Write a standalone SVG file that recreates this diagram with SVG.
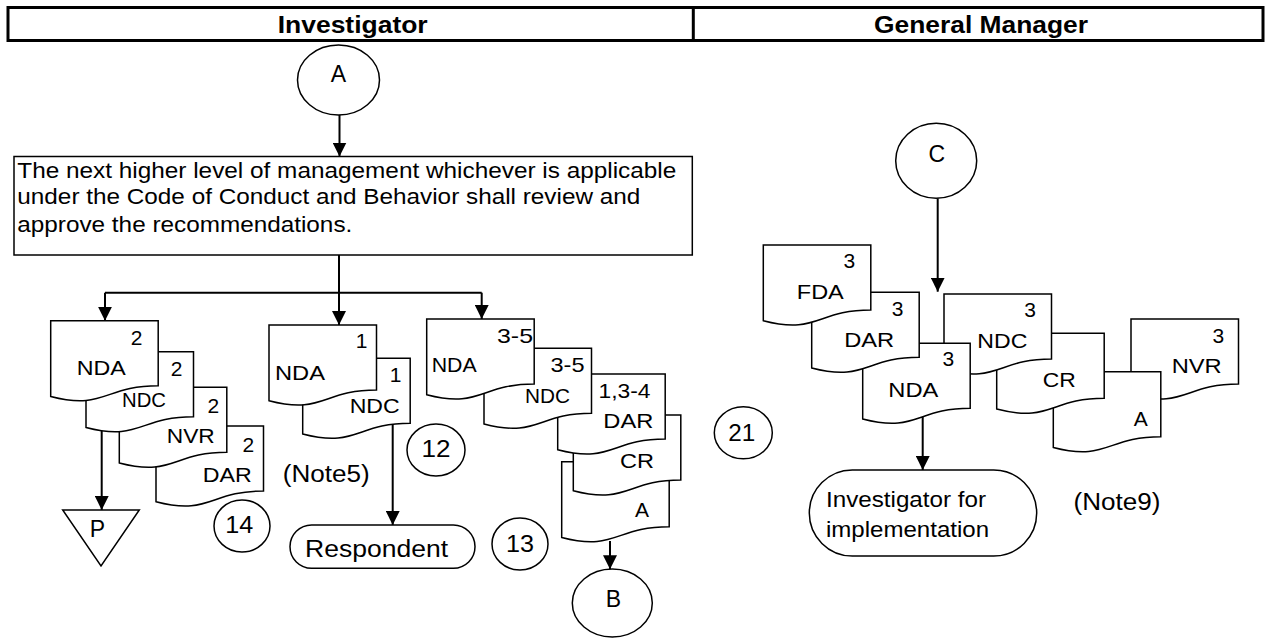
<svg xmlns="http://www.w3.org/2000/svg" xmlns:xlink="http://www.w3.org/1999/xlink" width="1267" height="639" viewBox="0 0 1267 639">
<style>
text{font-family:"Liberation Sans",Arial,sans-serif;fill:#000}
.hdr{font-size:23px;font-weight:bold;text-anchor:middle}
.bx{font-size:22px}
.lbl{font-size:21px;text-anchor:middle}
.big{font-size:23px;text-anchor:middle}
.shape{fill:#fff;stroke:#000;stroke-width:1.5}
.conn{stroke:#000;stroke-width:2;fill:none}
</style>
<defs>
<path id="doc" d="M0,0 H107.5 V65 C53.75,65 53.75,89.7 0,75.7 Z" fill="#fff" stroke="#000" stroke-width="1.5"/>
<marker id="ah" markerUnits="userSpaceOnUse" markerWidth="14" markerHeight="14" viewBox="0 0 14 14" refX="14" refY="7" orient="auto">
<path d="M0,0 L14,7 L0,14 Z" fill="#000"/>
</marker>
</defs>
<rect width="1267" height="639" fill="#fff"/>

<g id="header">
<rect x="8" y="7.5" width="1255" height="33" fill="none" stroke="#000" stroke-width="3"/>
<line x1="693.3" y1="7.5" x2="693.3" y2="40.5" stroke="#000" stroke-width="3"/>
<text class="hdr" x="352.7" y="33" textLength="150" lengthAdjust="spacingAndGlyphs">Investigator</text>
<text class="hdr" x="981" y="33" textLength="214" lengthAdjust="spacingAndGlyphs">General Manager</text>
</g>

<g id="conn">
<path class="conn" d="M339.5,115 V156.5" marker-end="url(#ah)"/>
<path class="conn" d="M339,255 V292.7"/>
<path class="conn" d="M105,292.7 H481.7"/>
<path class="conn" d="M105,292.7 V320.7" marker-end="url(#ah)"/>
<path class="conn" d="M339,292.7 V325" marker-end="url(#ah)"/>
<path class="conn" d="M481.7,292.7 V319" marker-end="url(#ah)"/>
<path class="conn" d="M101.7,431 V510" marker-end="url(#ah)"/>
<path class="conn" d="M392.7,424 V525" marker-end="url(#ah)"/>
<path class="conn" d="M610,541 V569.3" marker-end="url(#ah)"/>
<path class="conn" d="M937.7,198.3 V291.7" marker-end="url(#ah)"/>
<path class="conn" d="M922.7,417 V470" marker-end="url(#ah)"/>
</g>

<g id="circleA">
<ellipse class="shape" cx="338.5" cy="80" rx="41" ry="35"/>
<text class="big" x="338.3" y="82">A</text>
</g>

<g id="reviewBox">
<rect class="shape" x="14" y="156.5" width="678.3" height="98.5"/>
<text class="bx" x="17.3" y="178.3" textLength="659" lengthAdjust="spacingAndGlyphs">The next higher level of management whichever is applicable</text>
<text class="bx" x="17.3" y="204" textLength="623" lengthAdjust="spacingAndGlyphs">under the Code of Conduct and Behavior shall review and</text>
<text class="bx" x="17.3" y="231.7" textLength="335" lengthAdjust="spacingAndGlyphs">approve the recommendations.</text>
</g>

<!-- left stack (drawn bottom-most first) -->
<g id="L_DAR">
<use href="#doc" x="156" y="426"/>
<text class="lbl" x="248.3" y="451.7">2</text>
<text class="lbl" x="227.2" y="481.7" textLength="49" lengthAdjust="spacingAndGlyphs">DAR</text>
</g>
<g id="L_NVR">
<use href="#doc" x="119.3" y="387.3"/>
<text class="lbl" x="213.3" y="412.7">2</text>
<text class="lbl" x="190.8" y="442.7" textLength="48" lengthAdjust="spacingAndGlyphs">NVR</text>
</g>
<g id="L_NDC">
<use href="#doc" x="86" y="351.7"/>
<text class="lbl" x="176.7" y="376">2</text>
<text class="lbl" x="144" y="407.3" textLength="44" lengthAdjust="spacingAndGlyphs">NDC</text>
</g>
<g id="L_NDA">
<use href="#doc" x="50.7" y="320.7"/>
<text class="lbl" x="136.7" y="345">2</text>
<text class="lbl" x="101.3" y="375" textLength="49" lengthAdjust="spacingAndGlyphs">NDA</text>
</g>

<g id="P">
<path class="shape" d="M62.7,510 L139.3,510 L101,566 Z"/>
<text class="big" x="97.3" y="536.7">P</text>
</g>
<g id="c14">
<ellipse class="shape" cx="242" cy="526" rx="28" ry="26"/>
<text class="big" x="239.3" y="532.7" textLength="28" lengthAdjust="spacingAndGlyphs">14</text>
</g>

<!-- middle stack -->
<g id="M_NDC">
<use href="#doc" x="302.7" y="358.3"/>
<text class="lbl" x="395.7" y="381.7">1</text>
<text class="lbl" x="374.7" y="412.7" textLength="50" lengthAdjust="spacingAndGlyphs">NDC</text>
</g>
<g id="M_NDA">
<use href="#doc" x="269" y="325"/>
<text class="lbl" x="361.7" y="348.3">1</text>
<text class="lbl" x="300" y="380" textLength="50" lengthAdjust="spacingAndGlyphs">NDA</text>
</g>
<g id="note5">
<text class="big" x="326.3" y="481.7" textLength="87" lengthAdjust="spacingAndGlyphs">(Note5)</text>
</g>
<g id="c12">
<ellipse class="shape" cx="436" cy="450" rx="29" ry="26"/>
<text class="big" x="436" y="456.7" textLength="29" lengthAdjust="spacingAndGlyphs">12</text>
</g>
<g id="respondent">
<rect class="shape" x="290" y="525" width="185" height="43.3" rx="21.6" ry="21.6"/>
<text style="font-size:23px" x="305" y="556.7" textLength="143" lengthAdjust="spacingAndGlyphs">Respondent</text>
</g>
<g id="c13">
<ellipse class="shape" cx="520" cy="544" rx="28" ry="26"/>
<text class="big" x="520" y="551.7" textLength="28" lengthAdjust="spacingAndGlyphs">13</text>
</g>

<!-- right stack -->
<g id="R_A">
<use href="#doc" x="561.7" y="461.7"/>
<text class="lbl" x="642" y="516.7">A</text>
</g>
<g id="R_CR">
<use href="#doc" x="573.3" y="415"/>
<text class="lbl" x="637" y="468.3" textLength="34" lengthAdjust="spacingAndGlyphs">CR</text>
</g>
<g id="R_DAR">
<use href="#doc" x="557.7" y="374"/>
<text class="lbl" x="624.5" y="398.3" textLength="52" lengthAdjust="spacingAndGlyphs">1,3-4</text>
<text class="lbl" x="628.3" y="428.3" textLength="50" lengthAdjust="spacingAndGlyphs">DAR</text>
</g>
<g id="R_NDC">
<use href="#doc" x="484" y="348.3"/>
<text class="lbl" x="567.5" y="371.7" textLength="34" lengthAdjust="spacingAndGlyphs">3-5</text>
<text class="lbl" x="547.5" y="403.3" textLength="45" lengthAdjust="spacingAndGlyphs">NDC</text>
</g>
<g id="R_NDA">
<use href="#doc" x="426.7" y="319"/>
<text class="lbl" x="515" y="343.3" textLength="36" lengthAdjust="spacingAndGlyphs">3-5</text>
<text class="lbl" x="454.2" y="371.7" textLength="45" lengthAdjust="spacingAndGlyphs">NDA</text>
</g>
<g id="circleB">
<ellipse class="shape" cx="612.3" cy="603" rx="40" ry="34"/>
<text class="big" x="613.3" y="606.7">B</text>
</g>
<g id="c21">
<ellipse class="shape" cx="743.3" cy="432.8" rx="29" ry="26"/>
<text class="big" x="741.7" y="440.7" textLength="27" lengthAdjust="spacingAndGlyphs">21</text>
</g>

<!-- general manager -->
<g id="circleC">
<ellipse class="shape" cx="936.2" cy="160.8" rx="40.5" ry="37.5"/>
<text class="big" x="936.7" y="161.7">C</text>
</g>
<g id="G_NVR">
<use href="#doc" x="1131" y="319"/>
<text class="lbl" x="1218.3" y="342.7">3</text>
<text class="lbl" x="1196.7" y="372.7" textLength="50" lengthAdjust="spacingAndGlyphs">NVR</text>
</g>
<g id="G_A">
<use href="#doc" x="1053.3" y="371.7"/>
<text class="lbl" x="1140.8" y="426">A</text>
</g>
<g id="G_CR">
<use href="#doc" x="996.7" y="333.3"/>
<text class="lbl" x="1059.3" y="387.3" textLength="33" lengthAdjust="spacingAndGlyphs">CR</text>
</g>
<g id="G_NDC">
<use href="#doc" x="944" y="294"/>
<text class="lbl" x="1030" y="317.3">3</text>
<text class="lbl" x="1002.3" y="348.3" textLength="50" lengthAdjust="spacingAndGlyphs">NDC</text>
</g>
<g id="G_NDA">
<use href="#doc" x="862.7" y="343.3"/>
<text class="lbl" x="948.3" y="366">3</text>
<text class="lbl" x="913.3" y="396.7" textLength="50" lengthAdjust="spacingAndGlyphs">NDA</text>
</g>
<g id="G_DAR">
<use href="#doc" x="811.7" y="292.3"/>
<text class="lbl" x="897.7" y="316">3</text>
<text class="lbl" x="869.2" y="346.7" textLength="50" lengthAdjust="spacingAndGlyphs">DAR</text>
</g>
<g id="G_FDA">
<use href="#doc" x="763.3" y="245"/>
<text class="lbl" x="849.3" y="268.3">3</text>
<text class="lbl" x="820.3" y="299.3" textLength="47" lengthAdjust="spacingAndGlyphs">FDA</text>
</g>
<g id="implementation">
<rect class="shape" x="809.3" y="470" width="227.4" height="86" rx="43" ry="43"/>
<text style="font-size:22px" x="826" y="506.7" textLength="160" lengthAdjust="spacingAndGlyphs">Investigator for</text>
<text style="font-size:22px" x="826" y="536.7" textLength="163" lengthAdjust="spacingAndGlyphs">implementation</text>
</g>
<g id="note9">
<text class="big" x="1117" y="510" textLength="87" lengthAdjust="spacingAndGlyphs">(Note9)</text>
</g>
</svg>
